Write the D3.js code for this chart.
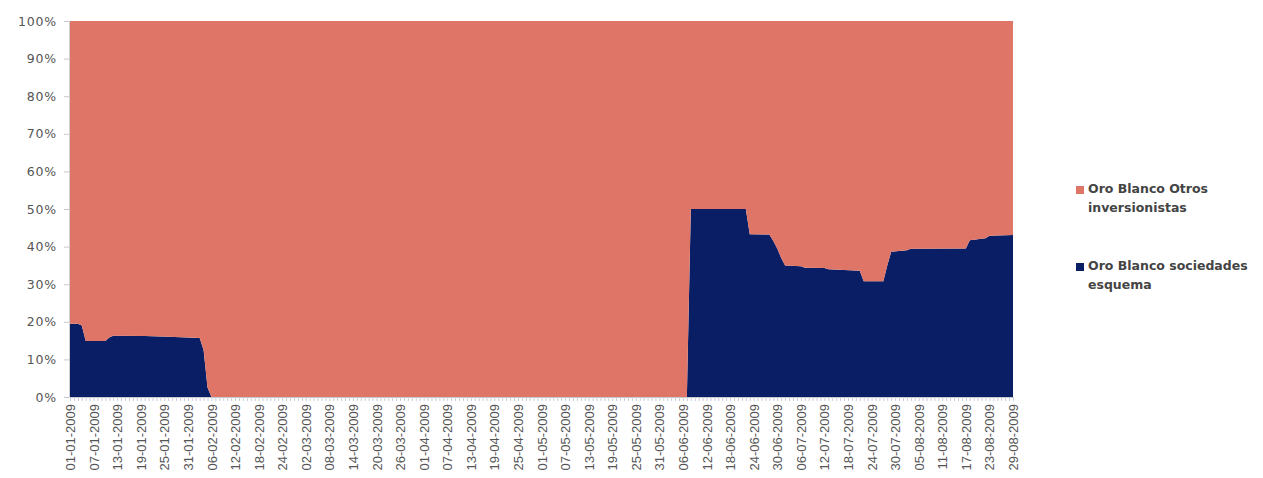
<!DOCTYPE html>
<html>
<head>
<meta charset="utf-8">
<script src="https://cdn.jsdelivr.net/npm/d3@7"></script>
<style>
  body { margin: 0; background: #fff; }
  svg { display: block; }
</style>
</head>
<body>
<div id="chart"></div>
<script>
// Oro Blanco - participación diaria (100% apilado)
const dates = [
    '01-01-2009', '03-01-2009', '04-01-2009', '05-01-2009', '10-01-2009', '11-01-2009',
    '12-01-2009', '20-01-2009', '26-01-2009', '03-02-2009', '04-02-2009', '05-02-2009',
    '06-02-2009', '07-06-2009', '08-06-2009', '22-06-2009', '23-06-2009', '28-06-2009',
    '29-06-2009', '30-06-2009', '01-07-2009', '02-07-2009', '06-07-2009', '07-07-2009',
    '12-07-2009', '13-07-2009', '21-07-2009', '22-07-2009', '27-07-2009', '28-07-2009',
    '29-07-2009', '02-08-2009', '03-08-2009', '17-08-2009', '18-08-2009', '22-08-2009',
    '23-08-2009', '29-08-2009'
];
const sociedades = [
    19.5, 19.5, 19.0, 14.9, 14.9, 15.8,
    16.3, 16.2, 16.0, 15.7, 12.5, 2.5,
    0, 0, 50.0, 50.0, 43.3, 43.2,
    41.5, 39.5, 37.0, 35.0, 34.8, 34.4,
    34.3, 34.0, 33.6, 30.8, 30.8, 35.0,
    38.6, 39.0, 39.4, 39.5, 41.7, 42.2,
    42.9, 43.1
];
const otros = [
    80.5, 80.5, 81.0, 85.1, 85.1, 84.2,
    83.7, 83.8, 84.0, 84.3, 87.5, 97.5,
    100, 100, 50.0, 50.0, 56.7, 56.8,
    58.5, 60.5, 63.0, 65.0, 65.2, 65.6,
    65.7, 66.0, 66.4, 69.2, 69.2, 65.0,
    61.4, 61.0, 60.6, 60.5, 58.3, 57.8,
    57.1, 56.9
];
const tickLabels = [
    '01-01-2009', '07-01-2009', '13-01-2009', '19-01-2009', '25-01-2009', '31-01-2009',
    '06-02-2009', '12-02-2009', '18-02-2009', '24-02-2009', '02-03-2009', '08-03-2009',
    '14-03-2009', '20-03-2009', '26-03-2009', '01-04-2009', '07-04-2009', '13-04-2009',
    '19-04-2009', '25-04-2009', '01-05-2009', '07-05-2009', '13-05-2009', '19-05-2009',
    '25-05-2009', '31-05-2009', '06-06-2009', '12-06-2009', '18-06-2009', '24-06-2009',
    '30-06-2009', '06-07-2009', '12-07-2009', '18-07-2009', '24-07-2009', '30-07-2009',
    '05-08-2009', '11-08-2009', '17-08-2009', '23-08-2009', '29-08-2009'
];
const seriesNames = ['Oro Blanco sociedades esquema', 'Oro Blanco Otros inversionistas'];
const colors = ['#0a1e66', '#de7566'];

const parseDate = d3.timeParse('%d-%m-%Y');

const width = 1263;
const height = 478;
const margin = { top: 21, right: 250, bottom: 81, left: 70 };

const svg = d3.select('#chart')
    .append('svg')
    .attr('width', width)
    .attr('height', height);

// Build rows for the stack
const rows = dates.map((d, i) => ({
    date: parseDate(d),
    soc: sociedades[i],
    otros: otros[i]
}));

const stack = d3.stack()
    .keys(['soc', 'otros'])
    .offset(d3.stackOffsetExpand);
const layers = stack(rows);

const x = d3.scaleTime()
    .domain([parseDate(tickLabels[0]), parseDate(tickLabels[tickLabels.length - 1])])
    .range([margin.left, width - margin.right]);

const y = d3.scaleLinear()
    .domain([0, 1])
    .range([height - margin.bottom, margin.top]);

const area = d3.area()
    .x(d => x(d.data.date))
    .y0(d => y(d[0]))
    .y1(d => y(d[1]));

// Areas
svg.append('g')
    .selectAll('path')
    .data(layers)
    .enter()
    .append('path')
    .attr('d', area)
    .attr('fill', (d, i) => colors[i]);

// Y axis
const yAxis = svg.append('g')
    .attr('transform', `translate(${margin.left - 1},0)`)
    .call(d3.axisLeft(y)
        .tickValues(d3.range(0, 1.01, 0.1))
        .tickFormat(d3.format('.0%'))
        .tickSize(5)
        .tickPadding(7));
yAxis.select('.domain').attr('stroke', '#d0d0d0');
yAxis.selectAll('.tick line').attr('stroke', '#c8c8c8');
yAxis.selectAll('.tick text')
    .attr('fill', '#555')
    .attr('font-family', 'DejaVu Sans, sans-serif')
    .attr('font-size', '12.5px')
    .attr('letter-spacing', '0.8px');

// X axis - daily minor ticks
const minor = svg.append('g')
    .attr('transform', `translate(0,${height - margin.bottom})`)
    .call(d3.axisBottom(x)
        .tickValues(d3.timeDay.range(x.domain()[0], d3.timeDay.offset(x.domain()[1], 1)))
        .tickFormat('')
        .tickSize(4));
minor.select('.domain').attr('stroke', '#c8c8c8');
minor.selectAll('.tick line').attr('stroke', '#c8cde0');

// X axis - labels every 6 days
const xAxis = svg.append('g')
    .attr('transform', `translate(0,${height - margin.bottom})`)
    .call(d3.axisBottom(x)
        .tickValues(tickLabels.map(parseDate))
        .tickFormat((d, i) => tickLabels[i])
        .tickSize(0));
xAxis.select('.domain').remove();
xAxis.selectAll('.tick text')
    .attr('transform', 'rotate(-90)')
    .attr('text-anchor', 'end')
    .attr('x', -7)
    .attr('y', 0)
    .attr('dy', '0.35em')
    .attr('fill', '#555')
    .attr('font-family', 'Liberation Sans, sans-serif')
    .attr('font-size', '13px');

// Legend (Otros first, as in the original)
const legendData = [
    { lines: ['Oro Blanco Otros', 'inversionistas'], color: colors[1], y: 189 },
    { lines: ['Oro Blanco sociedades', 'esquema'], color: colors[0], y: 266 }
];
const legend = svg.append('g')
    .attr('class', 'legend');
const items = legend.selectAll('.legend-item')
    .data(legendData)
    .enter()
    .append('g')
    .attr('class', 'legend-item')
    .attr('transform', d => `translate(1076, ${d.y})`);
items.append('rect')
    .attr('x', 0)
    .attr('y', -3)
    .attr('width', 8)
    .attr('height', 8)
    .attr('fill', d => d.color);
const txt = items.append('text')
    .attr('x', 12)
    .attr('y', 0)
    .attr('font-family', 'DejaVu Sans, sans-serif')
    .attr('font-size', '12.5px')
    .attr('font-weight', 'bold')
    .attr('fill', '#444');
txt.selectAll('tspan')
    .data(d => d.lines)
    .enter()
    .append('tspan')
    .attr('x', 12)
    .attr('dy', (d, i) => i === 0 ? '0.35em' : '19px')
    .text(d => d);
</script>
</body>
</html>
